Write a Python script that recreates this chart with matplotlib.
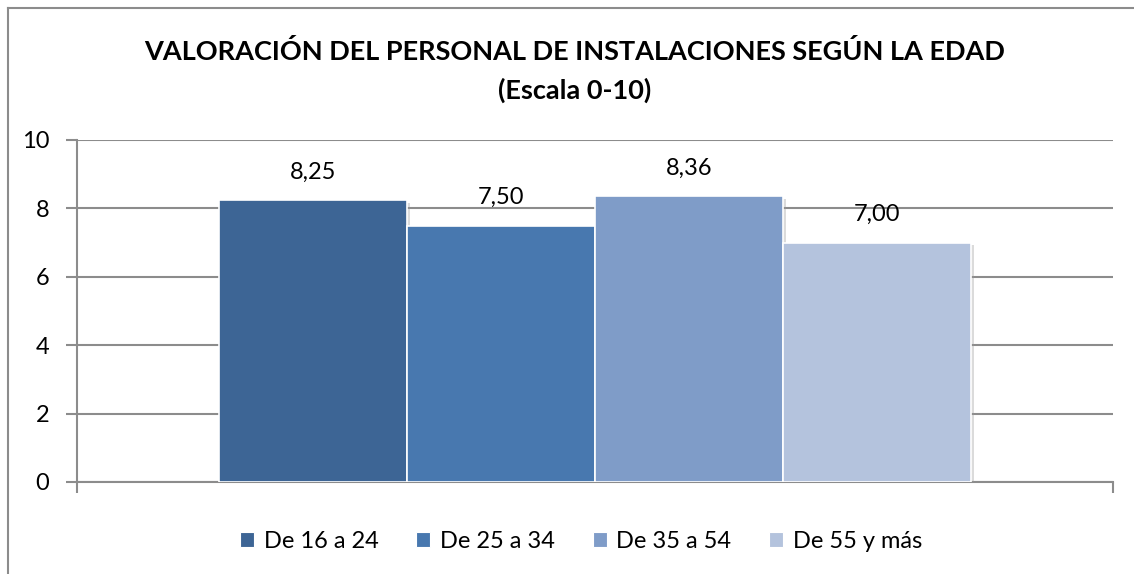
import matplotlib.pyplot as plt
from matplotlib.lines import Line2D
from matplotlib.patches import Patch
import matplotlib.patheffects as pe

plt.rcParams['font.family'] = ['Lato', 'DejaVu Sans']

# Datos
grupos = ['De 16 a 24', 'De 25 a 34', 'De 35 a 54', 'De 55 y más']
valores = [8.25, 7.50, 8.36, 7.00]
etiquetas = ['8,25', '7,50', '8,36', '7,00']
colores = ['#3D6595', '#4878AF', '#7F9CC8', '#B4C3DD']
yticks = [0, 2, 4, 6, 8, 10]

fig = plt.figure(figsize=(11.34, 5.74), dpi=100)
W, H = 1134, 574

# marco del gráfico (solo visible arriba e izquierda)
borde = '#8C8C8C'
fig.lines.append(Line2D([8 / W, 8 / W], [0, 1 - 8 / H], transform=fig.transFigure, color=borde, lw=1.5))
fig.lines.append(Line2D([8 / W, 1], [1 - 8 / H, 1 - 8 / H], transform=fig.transFigure, color=borde, lw=1.5))

ax = fig.add_axes([77 / W, (H - 482) / H, (1113 - 77) / W, (482 - 140) / H])

w = 188 / 1036
offsets = [-1.5 * w, -0.5 * w, 0.5 * w, 1.5 * w]
sombra = [pe.SimplePatchShadow(offset=(2, -2), shadow_rgbFace='#9A9A9A', alpha=0.35), pe.Normal()]
for off, v, c, lab in zip(offsets, valores, colores, etiquetas):
    b = ax.bar(off, v, width=w, color=c, edgecolor='white', linewidth=1.2, zorder=3)
    b[0].set_path_effects(sombra)
    ax.annotate(lab, xy=(off, v), xytext=(0, 28), textcoords='offset pixels',
                ha='center', va='center', fontsize=17, color='black', zorder=4)

ax.set_xlim(-0.5, 0.5)
ax.set_ylim(0, 10)
ax.set_yticks(yticks)
ax.set_yticklabels([str(t) for t in yticks], fontsize=17)
ax.set_xticks([-0.5, 0.5])
ax.set_xticklabels(['', ''])
ax.tick_params(axis='y', length=8, width=1.5, color=borde, pad=12)
ax.tick_params(axis='x', length=8, width=1.5, color=borde, direction='out')
ax.grid(axis='y', color=borde, linewidth=1.5, zorder=0)
for s in ['top', 'right']:
    ax.spines[s].set_visible(False)
for s in ['left', 'bottom']:
    ax.spines[s].set_color(borde)
    ax.spines[s].set_linewidth(1.5)

fig.text(575 / W, 1 - 52 / H, 'VALORACIÓN DEL PERSONAL DE INSTALACIONES SEGÚN LA EDAD',
         ha='center', va='center', fontsize=19.5, fontweight='bold')
fig.text(575 / W, 1 - 90 / H, '(Escala 0-10)', ha='center', va='center', fontsize=19.5, fontweight='bold')

handles = [Patch(facecolor=c, edgecolor='white', linewidth=0.8, label=g) for c, g in zip(colores, grupos)]
fig.legend(handles=handles, loc='center', bbox_to_anchor=(581 / W, 1 - 541 / H), ncol=4, frameon=False,
           fontsize=17, handlelength=0.6, handleheight=0.6, handletextpad=0.4, columnspacing=1.6)

fig.savefig('out.png', dpi=100)
